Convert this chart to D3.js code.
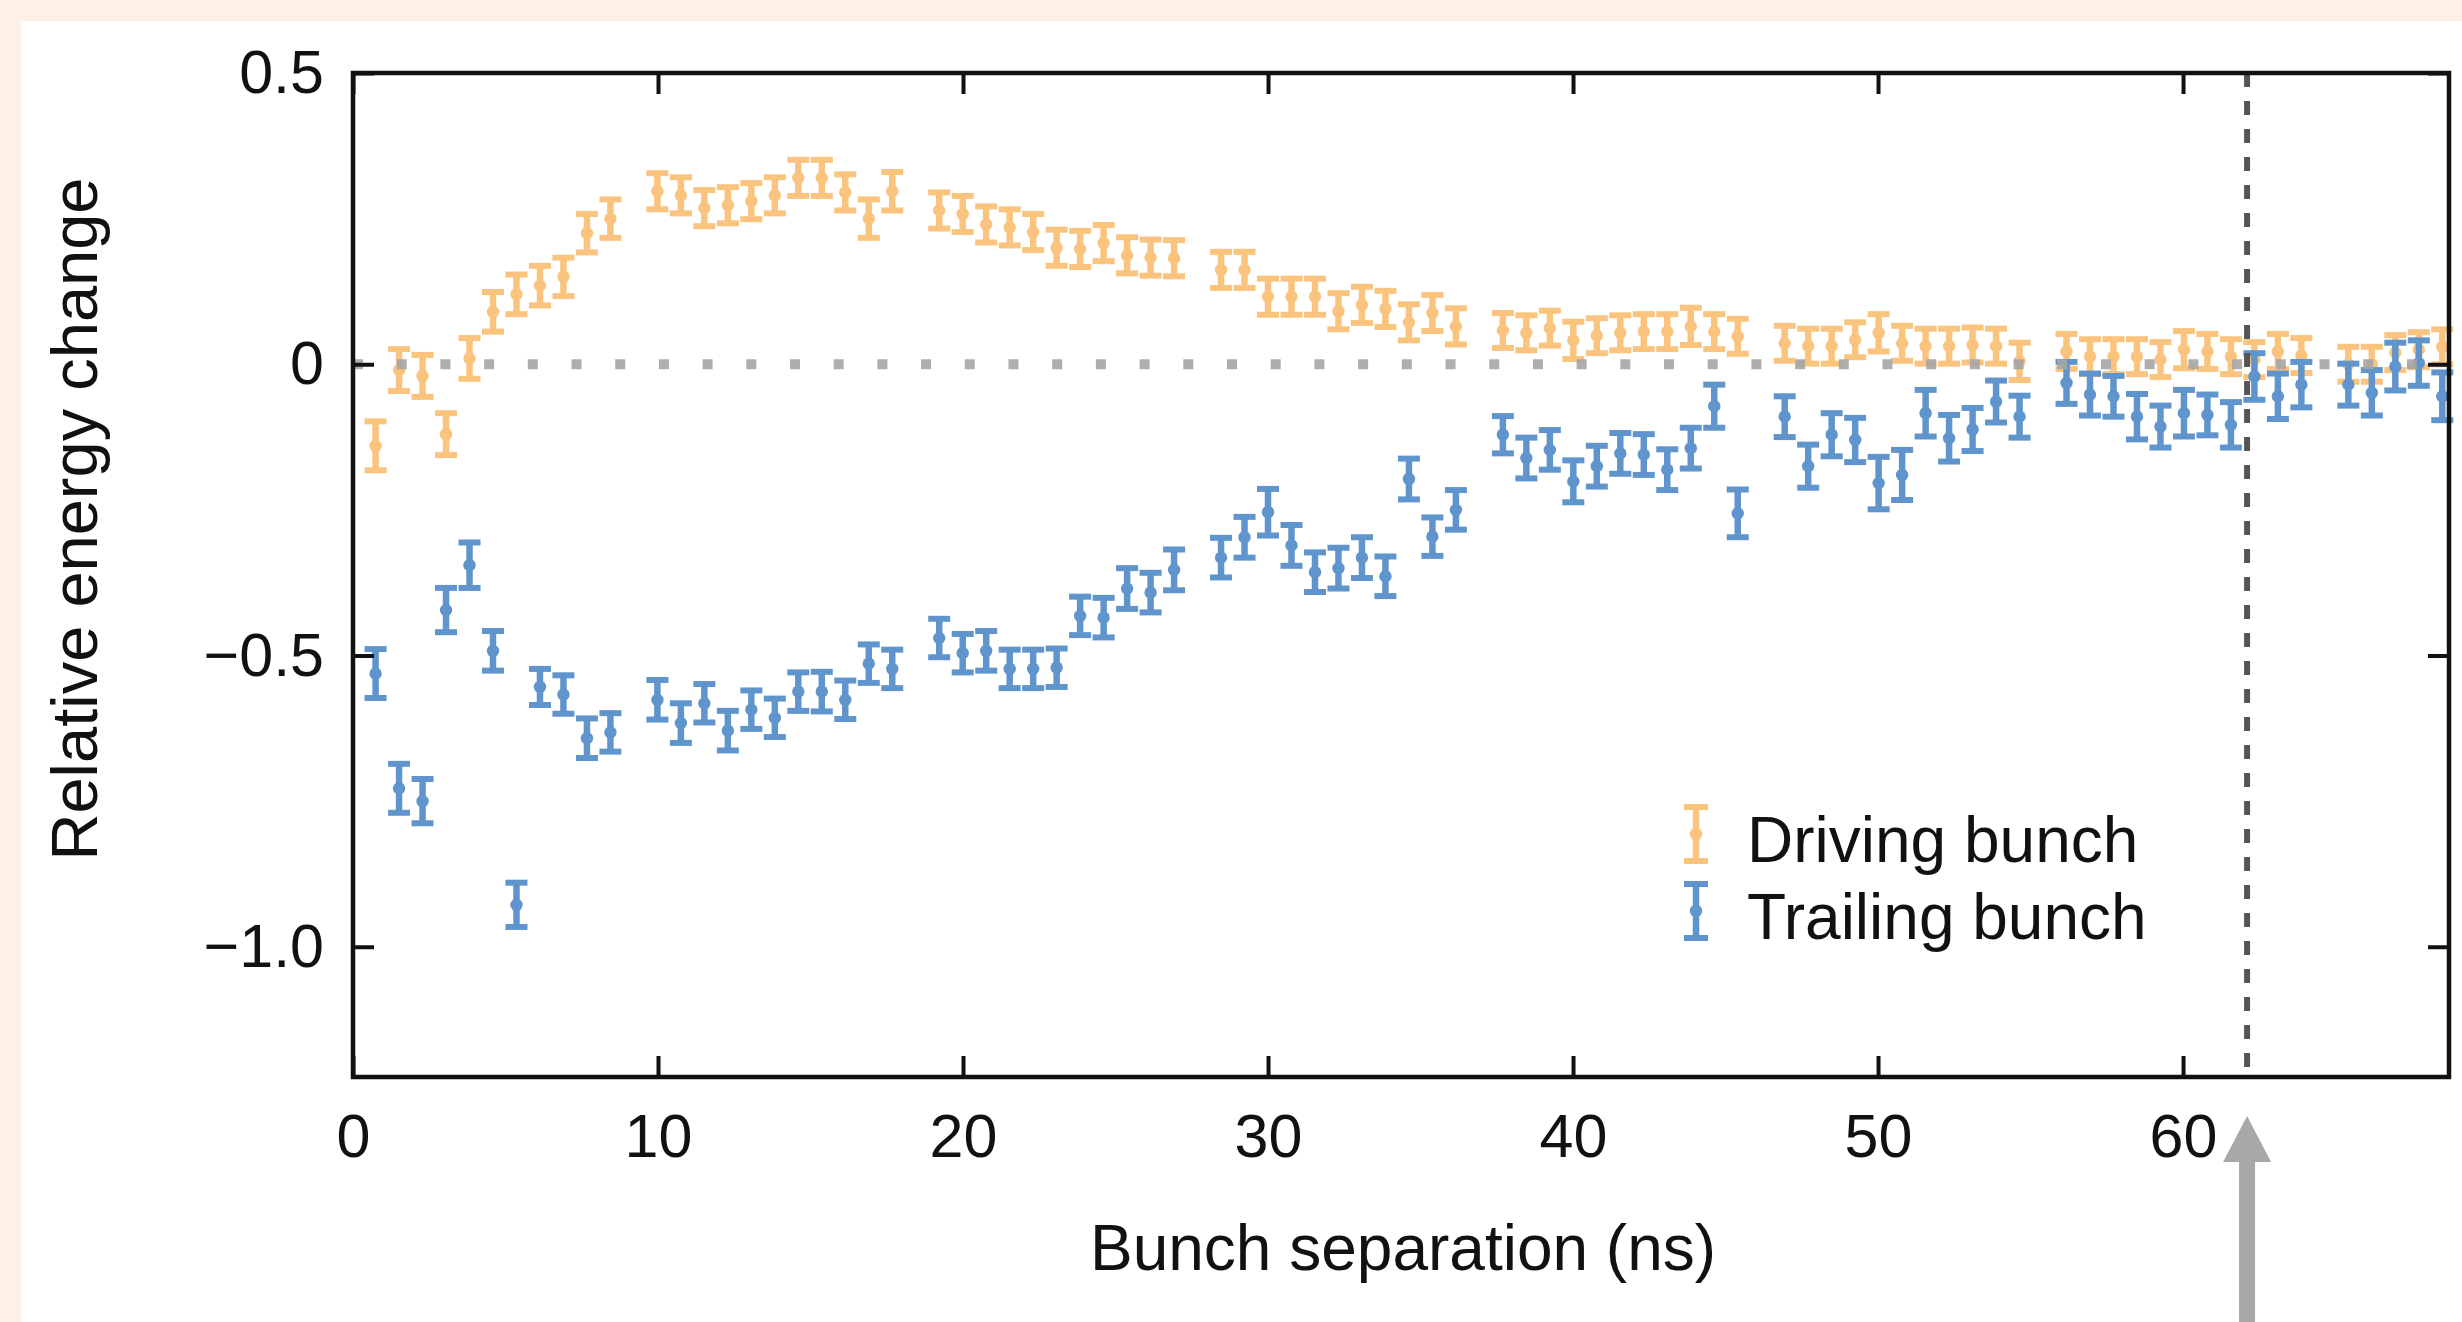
<!DOCTYPE html>
<html>
<head>
<meta charset="utf-8">
<script src="https://cdn.jsdelivr.net/npm/d3@7"></script>
<style>
  html, body { margin: 0; padding: 0; background: #fdf0e4; }
  svg { display: block; }
  text { font-family: 'Liberation Sans', Arial, Helvetica, sans-serif; fill: #111; }
</style>
</head>
<body>
<svg id="energy-svg" width="2462" height="1322"></svg>
<script>
const separation = [
  0.74, 1.51, 2.28, 3.05, 3.82, 4.59, 5.36, 6.13, 6.9, 7.67, 8.44,
  9.98, 10.75, 11.52, 12.29, 13.06, 13.83, 14.6, 15.37, 16.14, 16.91, 17.68,
  19.22, 19.99, 20.76, 21.53, 22.3, 23.07, 23.84, 24.61, 25.38, 26.15, 26.92,
  28.46, 29.23, 30.0, 30.77, 31.54, 32.31, 33.08, 33.85, 34.62, 35.39, 36.16,
  37.7, 38.47, 39.24, 40.01, 40.78, 41.55, 42.32, 43.09, 43.86, 44.63, 45.4,
  46.94, 47.71, 48.48, 49.25, 50.02, 50.79, 51.56, 52.33, 53.1, 53.87, 54.64,
  56.18, 56.95, 57.72, 58.49, 59.26, 60.03, 60.8, 61.57, 62.34, 63.11, 63.88,
  65.42, 66.19, 66.96, 67.73, 68.5,
];

const drivingChange = [
  -0.14, -0.01, -0.02, -0.12, 0.01, 0.09, 0.12, 0.135, 0.15, 0.225, 0.25,
  0.297, 0.29, 0.268, 0.273, 0.28, 0.29, 0.32, 0.32, 0.295, 0.25, 0.297,
  0.264, 0.258, 0.24, 0.235, 0.227, 0.2, 0.198, 0.208, 0.187, 0.183, 0.182,
  0.162, 0.162, 0.116, 0.116, 0.116, 0.091, 0.102, 0.095, 0.072, 0.088, 0.065,
  0.058, 0.054, 0.062, 0.041, 0.049, 0.054, 0.056, 0.056, 0.065, 0.056, 0.048,
  0.036, 0.031, 0.031, 0.042, 0.054, 0.036, 0.031, 0.031, 0.033, 0.031, 0.005,
  0.022, 0.013, 0.013, 0.013, 0.008, 0.025, 0.022, 0.013, 0.008, 0.022, 0.015,
  0.0, 0.0, 0.02, 0.025, 0.03,
];

const drivingError = [
  0.042, 0.036, 0.036, 0.036, 0.035, 0.034, 0.034, 0.034, 0.033, 0.033, 0.033,
  0.031, 0.031, 0.031, 0.031, 0.031, 0.031, 0.031, 0.031, 0.031, 0.033, 0.033,
  0.031, 0.031, 0.031, 0.031, 0.031, 0.031, 0.031, 0.031, 0.031, 0.031, 0.031,
  0.031, 0.031, 0.031, 0.031, 0.031, 0.031, 0.031, 0.031, 0.031, 0.031, 0.031,
  0.03, 0.03, 0.03, 0.032, 0.03, 0.03, 0.03, 0.03, 0.032, 0.03, 0.03,
  0.03, 0.03, 0.03, 0.03, 0.032, 0.03, 0.03, 0.03, 0.03, 0.03, 0.032,
  0.03, 0.03, 0.03, 0.03, 0.03, 0.032, 0.03, 0.03, 0.03, 0.03, 0.03,
  0.03, 0.03, 0.03, 0.03, 0.03,
];

const trailingChange = [
  -0.531, -0.728, -0.75, -0.422, -0.345, -0.492, -0.928, -0.554, -0.567, -0.642, -0.632,
  -0.576, -0.616, -0.582, -0.629, -0.593, -0.607, -0.562, -0.562, -0.576, -0.514, -0.523,
  -0.47, -0.496, -0.492, -0.523, -0.523, -0.521, -0.432, -0.435, -0.385, -0.392, -0.353,
  -0.332, -0.297, -0.254, -0.311, -0.357, -0.35, -0.332, -0.364, -0.197, -0.296, -0.25,
  -0.121, -0.161, -0.147, -0.201, -0.175, -0.153, -0.155, -0.181, -0.144, -0.072, -0.256,
  -0.09, -0.175, -0.121, -0.13, -0.204, -0.19, -0.084, -0.127, -0.112, -0.064, -0.09,
  -0.032, -0.052, -0.055, -0.09, -0.107, -0.084, -0.087, -0.104, -0.021, -0.055, -0.035,
  -0.035, -0.049, -0.004, 0.002, -0.055,
];

const trailingError = [
  0.042, 0.042, 0.038, 0.038, 0.039, 0.034, 0.038, 0.031, 0.033, 0.034, 0.033,
  0.034, 0.034, 0.033, 0.034, 0.033, 0.033, 0.033, 0.034, 0.033, 0.033, 0.033,
  0.033, 0.033, 0.034, 0.033, 0.033, 0.033, 0.033, 0.034, 0.035, 0.034, 0.035,
  0.034, 0.035, 0.04, 0.035, 0.034, 0.035, 0.035, 0.034, 0.035, 0.033, 0.034,
  0.032, 0.035, 0.034, 0.036, 0.035, 0.035, 0.035, 0.035, 0.035, 0.037, 0.041,
  0.035, 0.037, 0.037, 0.038, 0.045, 0.043, 0.04, 0.04, 0.037, 0.036, 0.036,
  0.036, 0.036, 0.035, 0.039, 0.036, 0.04, 0.035, 0.039, 0.04, 0.039, 0.039,
  0.036, 0.039, 0.041, 0.039, 0.041,
];

const xTicks = [0, 10, 20, 30, 40, 50, 60];
const yTicks = [0.5, 0, -0.5, -1.0];
const yTickLabels = ['0.5', '0', '\u22120.5', '\u22121.0'];
const seriesNames = ['Driving bunch', 'Trailing bunch'];
const seriesColours = ['#fac47e', '#5f95cc'];
const markerSeparation = 62.1;

// plot frame in page pixels
const frame = { left: 353, right: 2449, top: 73, bottom: 1077 };

const svg = d3.select('#energy-svg');

// white panel on the peach page
svg
  .append('rect')
  .attr('x', 21)
  .attr('y', 21)
  .attr('width', 2462 - 21)
  .attr('height', 1322 - 21)
  .attr('fill', '#ffffff');

const x = d3.scaleLinear().domain([0, 68.72]).range([frame.left, frame.right]);
const y = d3.scaleLinear().domain([-1.2236, 0.5]).range([frame.bottom, frame.top]);

const drawErrorBars = (g, points, colour) => {
  const bar = g
    .selectAll('g.errbar')
    .data(points)
    .join('g')
    .attr('class', 'errbar')
    .attr('stroke', colour)
    .attr('fill', colour);

  bar
    .append('line')
    .attr('x1', (d) => x(d.x))
    .attr('x2', (d) => x(d.x))
    .attr('y1', (d) => y(d.v - d.e))
    .attr('y2', (d) => y(d.v + d.e))
    .attr('stroke-width', 6.5);

  [1, -1].forEach((sign) => {
    bar
      .append('line')
      .attr('x1', (d) => x(d.x) - 11)
      .attr('x2', (d) => x(d.x) + 11)
      .attr('y1', (d) => y(d.v + sign * d.e))
      .attr('y2', (d) => y(d.v + sign * d.e))
      .attr('stroke-width', 6);
  });

  bar
    .append('circle')
    .attr('cx', (d) => x(d.x))
    .attr('cy', (d) => y(d.v))
    .attr('r', 6.2)
    .attr('stroke', 'none');
};

const toPoints = (values, errors) =>
  separation.map((s, i) => ({ x: s, v: values[i], e: errors[i] }));

drawErrorBars(svg.append('g'), toPoints(drivingChange, drivingError), seriesColours[0]);
drawErrorBars(svg.append('g'), toPoints(trailingChange, trailingError), seriesColours[1]);

// dotted zero line
svg
  .append('line')
  .attr('x1', x(0))
  .attr('x2', frame.right)
  .attr('y1', y(0))
  .attr('y2', y(0))
  .attr('stroke', '#a6a6a6')
  .attr('stroke-width', 10)
  .attr('stroke-dasharray', '10,33.7')
  .attr('opacity', 0.9);

// dashed marker line
svg
  .append('line')
  .attr('x1', x(markerSeparation))
  .attr('x2', x(markerSeparation))
  .attr('y1', frame.top)
  .attr('y2', frame.bottom)
  .attr('stroke', '#555555')
  .attr('stroke-width', 6)
  .attr('stroke-dasharray', '14,14');

// axes: ticks point inward on all four sides
const styleAxis = (g) => {
  g.select('.domain').remove();
  g.selectAll('.tick line').attr('stroke', '#111').attr('stroke-width', 4);
  g.selectAll('.tick text')
    .attr('font-size', 61)
    .attr('fill', '#111')
    .attr('font-family', "'Liberation Sans', Arial, sans-serif");
};

svg
  .append('g')
  .attr('transform', `translate(0,${frame.bottom})`)
  .call(d3.axisBottom(x).tickValues(xTicks).tickSizeInner(-21).tickSizeOuter(0).tickPadding(37))
  .call(styleAxis);

svg
  .append('g')
  .attr('transform', `translate(0,${frame.top})`)
  .call(d3.axisTop(x).tickValues(xTicks).tickSizeInner(-21).tickSizeOuter(0).tickFormat(''))
  .call(styleAxis);

svg
  .append('g')
  .attr('transform', `translate(${frame.left},0)`)
  .call(
    d3
      .axisLeft(y)
      .tickValues(yTicks)
      .tickSizeInner(-21)
      .tickSizeOuter(0)
      .tickPadding(29)
      .tickFormat((d, i) => yTickLabels[i])
  )
  .call(styleAxis);

svg
  .append('g')
  .attr('transform', `translate(${frame.right},0)`)
  .call(d3.axisRight(y).tickValues(yTicks).tickSizeInner(-21).tickSizeOuter(0).tickFormat(''))
  .call(styleAxis);

// frame box
svg
  .append('rect')
  .attr('x', frame.left)
  .attr('y', frame.top)
  .attr('width', frame.right - frame.left)
  .attr('height', frame.bottom - frame.top)
  .attr('fill', 'none')
  .attr('stroke', '#111')
  .attr('stroke-width', 4.5);

// axis titles
svg
  .append('text')
  .attr('x', (frame.left + frame.right) / 2 + 2)
  .attr('y', 1270)
  .attr('text-anchor', 'middle')
  .attr('font-size', 64)
  .text('Bunch separation (ns)');

svg
  .append('text')
  .attr('transform', 'translate(97,519) rotate(-90)')
  .attr('text-anchor', 'middle')
  .attr('font-size', 65)
  .text('Relative energy change');

// legend
const legend = svg.append('g').attr('class', 'legend');
const legendRows = [
  { name: seriesNames[0], colour: seriesColours[0], cy: 834 },
  { name: seriesNames[1], colour: seriesColours[1], cy: 911 },
];
legendRows.forEach((row) => {
  const item = legend.append('g').attr('stroke', row.colour).attr('fill', row.colour);
  item
    .append('line')
    .attr('x1', 1696)
    .attr('x2', 1696)
    .attr('y1', row.cy - 27)
    .attr('y2', row.cy + 27)
    .attr('stroke-width', 6.5);
  [-27, 27].forEach((off) => {
    item
      .append('line')
      .attr('x1', 1684)
      .attr('x2', 1708)
      .attr('y1', row.cy + off)
      .attr('y2', row.cy + off)
      .attr('stroke-width', 6);
  });
  item.append('circle').attr('cx', 1696).attr('cy', row.cy).attr('r', 6.2).attr('stroke', 'none');
  legend
    .append('text')
    .attr('x', 1747)
    .attr('y', row.cy + 28)
    .attr('font-size', 64)
    .text(row.name);
});

// grey arrow under the marker line
const ax = x(markerSeparation);
const arrowPath = d3.path();
arrowPath.moveTo(ax, 1116);
arrowPath.lineTo(ax + 24, 1162);
arrowPath.lineTo(ax + 8, 1162);
arrowPath.lineTo(ax + 8, 1322);
arrowPath.lineTo(ax - 8, 1322);
arrowPath.lineTo(ax - 8, 1162);
arrowPath.lineTo(ax - 24, 1162);
arrowPath.closePath();
svg.append('path').attr('d', arrowPath.toString()).attr('fill', '#a8a8a8');
</script>
</body>
</html>
